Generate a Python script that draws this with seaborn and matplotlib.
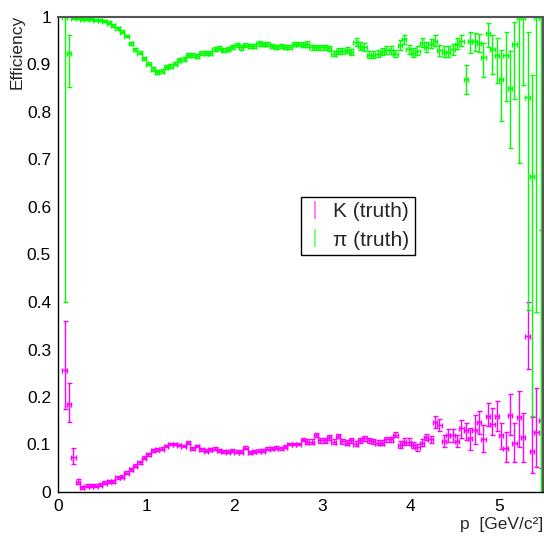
import numpy as np
import pandas as pd
import matplotlib
matplotlib.use("Agg")
import matplotlib.pyplot as plt
import seaborn as sns
from matplotlib.lines import Line2D
from matplotlib.ticker import MultipleLocator, FuncFormatter

# binning: 110 bins of 0.05 GeV/c between 0 and 5.5
bin_width = 0.05
p_centers = np.arange(110) * bin_width + bin_width / 2

# pion (truth) efficiency per bin
eff_pi = [
    np.nan, 1.000, 0.924, 0.997, 0.997, 0.996, 0.995, 0.995, 0.994, 0.994,
    0.992, 0.988, 0.983, 0.976, 0.969, 0.960, 0.945, 0.932, 0.925, 0.913,
    0.902, 0.890, 0.885, 0.886, 0.895, 0.897, 0.902, 0.909, 0.911, 0.920,
    0.920, 0.918, 0.925, 0.925, 0.925, 0.932, 0.934, 0.931, 0.932, 0.937,
    0.941, 0.936, 0.941, 0.939, 0.939, 0.945, 0.943, 0.943, 0.939, 0.937,
    0.939, 0.937, 0.937, 0.943, 0.943, 0.942, 0.943, 0.936, 0.936, 0.936,
    0.936, 0.934, 0.923, 0.929, 0.929, 0.930, 0.927, 0.948, 0.939, 0.937,
    0.921, 0.921, 0.923, 0.927, 0.930, 0.930, 0.923, 0.941, 0.953, 0.932,
    0.925, 0.929, 0.946, 0.937, 0.944, 0.950, 0.930, 0.927, 0.927, 0.932,
    0.944, 0.950, 0.870, 0.949, 0.949, 0.946, 0.916, 0.966, 0.932, 0.919,
    0.869, 0.919, 0.850, 0.943, 1.000, 1.000, 0.832, 0.665, 1.000, 1.000,
]
err_pi_lo = [
    np.nan, 0.600, 0.072, 0.002, 0.002, 0.002, 0.002, 0.002, 0.002, 0.002,
    0.002, 0.003, 0.003, 0.003, 0.003, 0.003, 0.003, 0.003, 0.003, 0.003,
    0.003, 0.004, 0.004, 0.004, 0.004, 0.004, 0.004, 0.004, 0.004, 0.004,
    0.004, 0.004, 0.004, 0.004, 0.004, 0.004, 0.004, 0.004, 0.004, 0.004,
    0.004, 0.005, 0.005, 0.005, 0.005, 0.005, 0.005, 0.005, 0.005, 0.005,
    0.005, 0.005, 0.005, 0.005, 0.005, 0.005, 0.006, 0.006, 0.006, 0.006,
    0.006, 0.006, 0.006, 0.006, 0.006, 0.006, 0.006, 0.008, 0.008, 0.008,
    0.008, 0.008, 0.008, 0.008, 0.008, 0.008, 0.008, 0.010, 0.010, 0.010,
    0.010, 0.010, 0.010, 0.010, 0.010, 0.012, 0.012, 0.012, 0.012, 0.012,
    0.012, 0.012, 0.032, 0.025, 0.020, 0.020, 0.042, 0.030, 0.051, 0.059,
    0.087, 0.096, 0.125, 0.116, 0.307, 0.143, 0.449, 0.506, 0.620, 1.000,
]
err_pi_hi = [
    np.nan, 0.000, 0.039, 0.002, 0.002, 0.002, 0.002, 0.002, 0.002, 0.002,
    0.002, 0.003, 0.003, 0.003, 0.003, 0.003, 0.003, 0.003, 0.003, 0.003,
    0.003, 0.004, 0.004, 0.004, 0.004, 0.004, 0.004, 0.004, 0.004, 0.004,
    0.004, 0.004, 0.004, 0.004, 0.004, 0.004, 0.004, 0.004, 0.004, 0.004,
    0.004, 0.005, 0.005, 0.005, 0.005, 0.005, 0.005, 0.005, 0.005, 0.005,
    0.005, 0.005, 0.005, 0.005, 0.005, 0.005, 0.006, 0.006, 0.006, 0.006,
    0.006, 0.006, 0.006, 0.006, 0.006, 0.006, 0.006, 0.008, 0.008, 0.008,
    0.008, 0.008, 0.008, 0.008, 0.008, 0.008, 0.008, 0.010, 0.010, 0.010,
    0.010, 0.010, 0.010, 0.010, 0.010, 0.012, 0.012, 0.012, 0.012, 0.012,
    0.012, 0.012, 0.029, 0.019, 0.018, 0.018, 0.030, 0.022, 0.031, 0.037,
    0.062, 0.050, 0.078, 0.047, 0.000, 0.000, 0.137, 0.213, 0.000, 0.000,
]

# kaon (truth) efficiency per bin
eff_k = [
    np.nan, 0.257, 0.185, 0.074, 0.022, 0.010, 0.013, 0.013, 0.013, 0.015,
    0.020, 0.023, 0.023, 0.031, 0.032, 0.041, 0.048, 0.055, 0.063, 0.072,
    0.079, 0.088, 0.090, 0.091, 0.097, 0.101, 0.101, 0.099, 0.097, 0.104,
    0.092, 0.097, 0.090, 0.087, 0.090, 0.091, 0.088, 0.086, 0.085, 0.087,
    0.085, 0.085, 0.093, 0.084, 0.086, 0.087, 0.087, 0.091, 0.092, 0.093,
    0.092, 0.095, 0.101, 0.101, 0.101, 0.110, 0.106, 0.106, 0.120, 0.109,
    0.109, 0.115, 0.106, 0.118, 0.107, 0.104, 0.109, 0.102, 0.109, 0.113,
    0.109, 0.107, 0.104, 0.104, 0.111, 0.111, 0.121, 0.100, 0.106, 0.106,
    0.099, 0.094, 0.104, 0.116, 0.111, 0.147, 0.141, 0.108, 0.119, 0.119,
    0.108, 0.134, 0.130, 0.113, 0.130, 0.148, 0.111, 0.160, 0.144, 0.160,
    0.119, 0.092, 0.163, 0.104, 0.158, 0.115, 0.328, 0.087, 0.127, 0.151,
]
err_k_lo = [
    np.nan, 0.083, 0.038, 0.016, 0.006, 0.003, 0.003, 0.003, 0.003, 0.003,
    0.003, 0.003, 0.003, 0.003, 0.003, 0.003, 0.003, 0.003, 0.003, 0.003,
    0.003, 0.003, 0.003, 0.003, 0.003, 0.003, 0.003, 0.003, 0.003, 0.003,
    0.003, 0.003, 0.003, 0.003, 0.003, 0.003, 0.003, 0.003, 0.003, 0.003,
    0.003, 0.003, 0.003, 0.003, 0.003, 0.003, 0.003, 0.003, 0.003, 0.003,
    0.003, 0.003, 0.003, 0.003, 0.003, 0.003, 0.005, 0.005, 0.005, 0.005,
    0.005, 0.005, 0.005, 0.005, 0.005, 0.005, 0.005, 0.005, 0.005, 0.005,
    0.005, 0.005, 0.005, 0.005, 0.005, 0.005, 0.005, 0.007, 0.007, 0.007,
    0.007, 0.007, 0.007, 0.007, 0.007, 0.013, 0.013, 0.013, 0.013, 0.013,
    0.013, 0.021, 0.021, 0.025, 0.028, 0.025, 0.026, 0.021, 0.025, 0.032,
    0.028, 0.028, 0.044, 0.040, 0.063, 0.051, 0.070, 0.047, 0.075, 0.100,
]
err_k_hi = [
    np.nan, 0.102, 0.045, 0.019, 0.006, 0.003, 0.003, 0.003, 0.003, 0.003,
    0.003, 0.003, 0.003, 0.003, 0.003, 0.003, 0.003, 0.003, 0.003, 0.003,
    0.003, 0.003, 0.003, 0.003, 0.003, 0.003, 0.003, 0.003, 0.003, 0.003,
    0.003, 0.003, 0.003, 0.003, 0.003, 0.003, 0.003, 0.003, 0.003, 0.003,
    0.003, 0.003, 0.003, 0.003, 0.003, 0.003, 0.003, 0.003, 0.003, 0.003,
    0.003, 0.003, 0.003, 0.003, 0.003, 0.003, 0.005, 0.005, 0.005, 0.005,
    0.005, 0.005, 0.005, 0.005, 0.005, 0.005, 0.005, 0.005, 0.005, 0.005,
    0.005, 0.005, 0.005, 0.005, 0.005, 0.005, 0.005, 0.007, 0.007, 0.007,
    0.007, 0.007, 0.007, 0.007, 0.007, 0.013, 0.013, 0.013, 0.013, 0.013,
    0.013, 0.018, 0.015, 0.021, 0.032, 0.023, 0.030, 0.027, 0.032, 0.032,
    0.027, 0.035, 0.044, 0.041, 0.054, 0.051, 0.073, 0.071, 0.091, 0.400,
]

series_labels = ["K (truth)", "\u03c0 (truth)"]
colors = ["#ff00ff", "#00ff00"]

sns.set_theme(style="white")
plt.rcParams['font.family'] = ['Liberation Sans', 'DejaVu Sans']

fig = plt.figure(figsize=(5.44, 5.36), dpi=100)
ax = fig.add_axes([58 / 544, 44 / 536, 485 / 544, 475 / 536])

series = [
    (eff_k, err_k_lo, err_k_hi),
    (eff_pi, err_pi_lo, err_pi_hi),
]
for (vals, lo, hi), color, label in zip(series, colors, series_labels):
    df = pd.DataFrame({"p": p_centers, "eff": vals, "lo": lo, "hi": hi}).dropna()
    ax.errorbar(df["p"], df["eff"], xerr=bin_width / 2,
                yerr=[df["lo"], df["hi"]], fmt="none", ecolor=color,
                elinewidth=1.0, capsize=1.8, capthick=1.0, clip_on=True)
    sns.scatterplot(data=df, x="p", y="eff", ax=ax, color=color, s=3,
                    linewidth=0, legend=False)

ax.set_xlim(0, 5.5)
ax.set_ylim(0, 1)
ax.xaxis.set_major_locator(MultipleLocator(1))
ax.xaxis.set_minor_locator(MultipleLocator(0.2))
ax.yaxis.set_major_locator(MultipleLocator(0.1))
ax.yaxis.set_minor_locator(MultipleLocator(0.02))
fmt = FuncFormatter(lambda v, pos: f"{v:g}")
ax.xaxis.set_major_formatter(fmt)
ax.yaxis.set_major_formatter(fmt)
ax.tick_params(which="both", direction="in", top=False, right=False,
               labelsize=12.5, colors="black", width=1)
ax.tick_params(which="major", length=10, pad=5)
ax.tick_params(which="minor", length=5)

for side in ["left", "bottom"]:
    ax.spines[side].set_color("black")
    ax.spines[side].set_linewidth(1.0)
for side in ["top", "right"]:
    ax.spines[side].set_color("#555555")
    ax.spines[side].set_linewidth(1.5)

ax.set_xlabel("p  [GeV/c\u00b2]", loc="right", fontsize=12.5, labelpad=2)
ax.set_ylabel("Efficiency", loc="top", fontsize=12.5)
ax.yaxis.set_label_coords(-0.068, 1.005)

handles = [Line2D([0], [0], color=c, marker="|", linestyle="none",
                  markersize=13, markeredgewidth=1.2, alpha=0.6) for c in colors]
leg = ax.legend(handles, series_labels, loc="upper left",
                bbox_to_anchor=(0.501, 0.621), borderaxespad=0,
                fontsize=15, frameon=True, fancybox=False, framealpha=1,
                handlelength=0.8, handletextpad=0.5, borderpad=0.25,
                labelspacing=0.45)
leg.get_frame().set_edgecolor("black")
leg.get_frame().set_linewidth(1.0)

fig.savefig("out.png", dpi=100)
